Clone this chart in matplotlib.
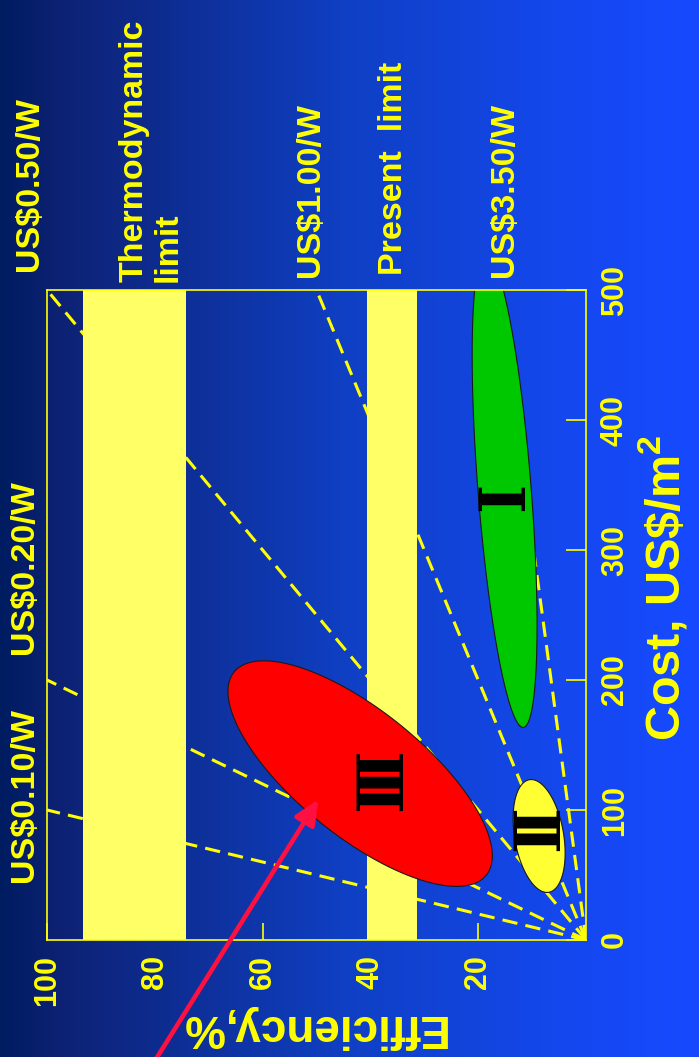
import numpy as np
import matplotlib
matplotlib.use("Agg")
import matplotlib.pyplot as plt
from matplotlib.colors import LinearSegmentedColormap
from matplotlib.patches import FancyArrowPatch

plt.rcParams['font.family'] = ['Liberation Sans', 'DejaVu Sans']
plt.rcParams['mathtext.fontset'] = 'custom'
plt.rcParams['mathtext.rm'] = 'Liberation Sans:bold'
plt.rcParams['mathtext.it'] = 'Liberation Sans:bold'
plt.rcParams['mathtext.bf'] = 'Liberation Sans:bold'

W, H = 699, 1057

# --- data ---
eff_ticks = [100, 80, 60, 40, 20]
cost_ticks = [0, 100, 200, 300, 400, 500]

# constant price lines from the origin, end points (efficiency %, cost US$/m2)
price_names = ["US$0.10/W", "US$0.20/W", "US$0.50/W", "US$1.00/W", "US$3.50/W"]
line_end_eff = [100, 100, 100, 50, 16.2]
line_end_cost = [100, 200, 500, 500, 500]

# limits (efficiency ranges)
thermo_band = [74.2, 93.3]
present_band = [31.3, 40.7]

# generations: centre (eff, cost) and two conjugate half axes in data units
gen_names = ["Ⅰ", "Ⅱ", "Ⅲ"]
gen_colors = ["#00c800", "#ffff33", "#ff0000"]
gen_center_eff = [15.1, 8.7, 41.9]
gen_center_cost = [346, 80, 128]
gen_axis1 = [(-3.47, -182.5), (-1.80, -43.3), (-23.4, -78.1)]
gen_axis2 = [(4.92, -1.61), (4.48, -3.20), (7.33, -37.8)]
gen_label_eff = [14.9, 8.5, 37.6]
gen_label_cost = [341, 86, 123]


def fpx(x, y):
    return x / W, 1 - y / H


fig = plt.figure(figsize=(W / 100, H / 100), dpi=100)

# background gradient, dark navy on the left to bright blue on the right
bg = fig.add_axes([0, 0, 1, 1], zorder=-10)
cmap = LinearSegmentedColormap.from_list("bg", [
    (0.0, (0.0, 0.11, 0.38)),
    (0.08, (0.05, 0.13, 0.45)),
    (0.5, (0.06, 0.25, 0.77)),
    (0.8, (0.08, 0.28, 0.93)),
    (1.0, (0.09, 0.29, 1.0))])
bg.imshow(np.linspace(0, 1, 256)[None, :], aspect='auto', cmap=cmap, extent=[0, 1, 0, 1])
bg.axis('off')

l, b = fpx(47, 940)
r, t = fpx(586, 290)
ax = fig.add_axes([l, b, r - l, t - b])
ax.patch.set_alpha(0)
ax.set_xlim(100, 0)
ax.set_ylim(0, 500)

yellow = "#ffff00"
for s in ax.spines.values():
    s.set_color(yellow)
    s.set_linewidth(1.2)
    s.set_zorder(5)

ax.set_xticks(eff_ticks)
ax.set_xticklabels([str(v) for v in eff_ticks], rotation=90)
ax.set_yticks(cost_ticks)
ax.set_yticklabels([str(v) for v in cost_ticks], rotation=90, va='center')
ax.yaxis.tick_right()
ax.tick_params(axis='x', direction='in', length=12, width=1.2, color=yellow,
               labelcolor=yellow, labelsize=22, pad=11)
ax.tick_params(axis='y', direction='in', length=14.5, width=1.2, color=yellow,
               labelcolor=yellow, labelsize=22, pad=10)
for lab in ax.get_xticklabels() + ax.get_yticklabels():
    lab.set_fontweight('bold')

# price lines
for e, c in zip(line_end_eff, line_end_cost):
    ax.plot([0, e], [0, c], color=yellow, lw=2.2, ls=(0, (5, 2.7)), zorder=2)

# limit bands
for lo, hi in [thermo_band, present_band]:
    ax.axvspan(lo, hi, color="#ffff66", zorder=3, lw=0)

# generation ellipses
tt = np.linspace(0, 2 * np.pi, 300)
for ce, cc, a1, a2, col in zip(gen_center_eff, gen_center_cost, gen_axis1, gen_axis2, gen_colors):
    xs = ce + np.cos(tt) * a1[0] + np.sin(tt) * a2[0]
    ys = cc + np.cos(tt) * a1[1] + np.sin(tt) * a2[1]
    ax.fill(xs, ys, facecolor=col, edgecolor="#1a1a1a", lw=0.8, zorder=4)

for name, e, c in zip(gen_names, gen_label_eff, gen_label_cost):
    ax.text(e, c, name, rotation=90, ha='center', va='center', fontsize=45,
            family=['DejaVu Serif'], fontweight='bold', color='black', zorder=6)

# labels round the frame
lab_kw = dict(rotation=90, ha='center', va='bottom', color=yellow,
              fontsize=24.5, fontweight='bold')
fig.text(*fpx(25, 882), "US$0.10/W", **lab_kw)
fig.text(*fpx(25, 654), "US$0.20/W", **lab_kw)
fig.text(*fpx(30, 271), "US$0.50/W", **lab_kw)
fig.text(*fpx(151, 282), "Thermodynamic\nlimit", multialignment='left',
         linespacing=1.15, **lab_kw)
fig.text(*fpx(311, 277), "US$1.00/W", **lab_kw)
fig.text(*fpx(394, 275), "Present  limit", **lab_kw)
fig.text(*fpx(505, 277), "US$3.50/W", **lab_kw)

fig.text(*fpx(311, 1027), "Efficiency,%", rotation=180, ha='center', va='center',
         color=yellow, fontsize=33, fontweight='bold')
fig.text(*fpx(663, 588), r"Cost, US\$/m$^2$", rotation=90, ha='center', va='center',
         color=yellow, fontsize=35, fontweight='bold')

# arrow pointing at generation III
arrow = FancyArrowPatch(fpx(146, 1075), fpx(320, 797), transform=fig.transFigure,
                        arrowstyle='-|>,head_length=1.0,head_width=0.45',
                        mutation_scale=15, color="#ff1040", lw=3.3, zorder=10)
fig.add_artist(arrow)

fig.savefig("out.png", dpi=100)
